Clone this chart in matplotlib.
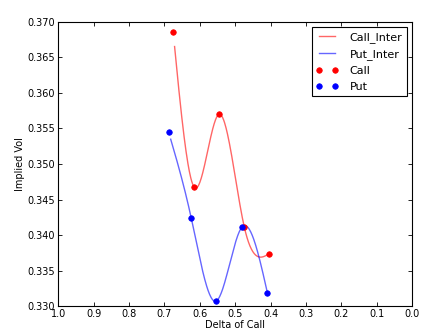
import matplotlib
matplotlib.use("Agg")
import matplotlib.pyplot as plt
import numpy as np

# delta of call vs implied vol
call_delta = [0.675, 0.615, 0.545, 0.474, 0.403]
call_vol = [0.3686, 0.3467, 0.3570, 0.3411, 0.3374]
put_delta = [0.688, 0.624, 0.554, 0.481, 0.409]
put_vol = [0.3545, 0.3424, 0.3307, 0.3411, 0.3319]

# range the interpolated curves were evaluated on
call_grid = (0.671, 0.403)
put_grid = (0.682, 0.409)


def spline(x, y, xs):
    # natural cubic spline
    order = np.argsort(x)
    x = np.asarray(x, float)[order]
    y = np.asarray(y, float)[order]
    n = len(x)
    h = np.diff(x)
    A = np.zeros((n, n))
    b = np.zeros(n)
    A[0, 0] = A[-1, -1] = 1
    for i in range(1, n - 1):
        A[i, i - 1] = h[i - 1]
        A[i, i] = 2 * (h[i - 1] + h[i])
        A[i, i + 1] = h[i]
        b[i] = 6 * ((y[i + 1] - y[i]) / h[i] - (y[i] - y[i - 1]) / h[i - 1])
    M = np.linalg.solve(A, b)
    xs = np.asarray(xs)
    k = np.clip(np.searchsorted(x, xs) - 1, 0, n - 2)
    t1 = x[k + 1] - xs
    t0 = xs - x[k]
    return (M[k] * t1 ** 3 / (6 * h[k]) + M[k + 1] * t0 ** 3 / (6 * h[k])
            + (y[k] / h[k] - M[k] * h[k] / 6) * t1
            + (y[k + 1] / h[k] - M[k + 1] * h[k] / 6) * t0)


xc = np.linspace(call_grid[0], call_grid[1], 200)
xp = np.linspace(put_grid[0], put_grid[1], 200)

plt.rcParams['font.family'] = ['DejaVu Sans']
plt.rcParams['font.size'] = 7
plt.rcParams['xtick.direction'] = 'in'
plt.rcParams['ytick.direction'] = 'in'
plt.rcParams['xtick.top'] = True
plt.rcParams['ytick.right'] = True

fig = plt.figure(figsize=(4.21, 3.36), dpi=100)
ax = fig.add_axes([0.138, 0.089, 0.841, 0.846])

ax.plot(xc, spline(call_delta, call_vol, xc), color='r', alpha=0.6, lw=1, label='Call_Inter')
ax.plot(xp, spline(put_delta, put_vol, xp), color='b', alpha=0.6, lw=1, label='Put_Inter')
ax.plot(call_delta, call_vol, 'o', color='r', ms=4, mew=0.5, label='Call')
ax.plot(put_delta, put_vol, 'o', color='b', ms=4, mew=0.5, label='Put')

ax.set_xlim(1.0, 0.0)
ax.set_ylim(0.330, 0.370)
ax.set_xticks(np.arange(0, 1.01, 0.1))
ax.set_yticks(np.arange(0.330, 0.3701, 0.005))
ax.xaxis.set_major_formatter(matplotlib.ticker.FormatStrFormatter('%.1f'))
ax.yaxis.set_major_formatter(matplotlib.ticker.FormatStrFormatter('%.3f'))
ax.tick_params(length=3, width=0.6, labelsize=7, pad=2)
for s in ax.spines.values():
    s.set_linewidth(0.8)
ax.set_xlabel('Delta of Call', fontsize=7, labelpad=1)
ax.set_ylabel('Implied Vol', fontsize=7, labelpad=2)

leg = ax.legend(loc='upper right', numpoints=2, fontsize=8, fancybox=False,
                edgecolor='black', framealpha=1, handlelength=2.0, handletextpad=1.0,
                labelspacing=0.55, borderaxespad=0.5)
leg.get_frame().set_linewidth(0.8)

fig.savefig('out.png', dpi=100)
